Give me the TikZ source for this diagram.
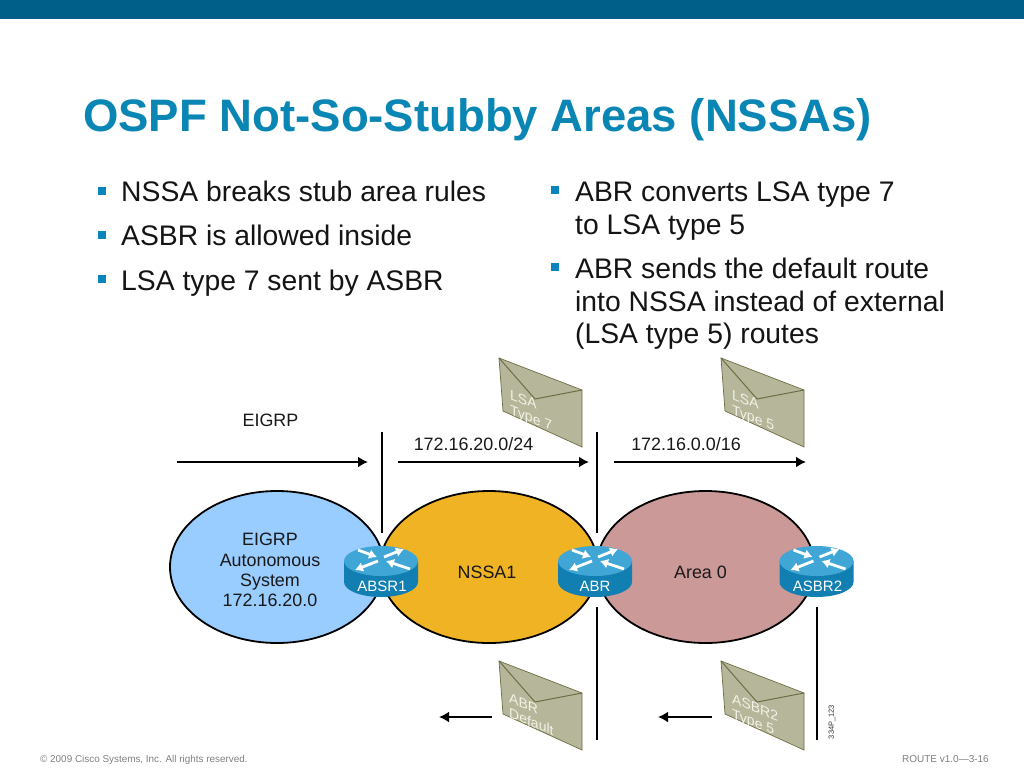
\documentclass[tikz,border=0pt]{standalone}
\usepackage{fontspec}
\setmainfont{Liberation Sans}
\usetikzlibrary{arrows.meta,shapes.geometric}
\definecolor{ciscoblue}{HTML}{0A86B4}
\definecolor{bulletblue}{HTML}{0A84BE}
\definecolor{topbar}{HTML}{005F89}
\definecolor{envfill}{HTML}{B5B69A}
\definecolor{envline}{HTML}{6E6E45}
\definecolor{routerTop}{HTML}{3FA6D6}
\definecolor{routerSide}{HTML}{117FB2}
\definecolor{envtext}{HTML}{F2F2E6}
\definecolor{eigrpblue}{RGB}{153,204,255}
\definecolor{areared}{RGB}{204,153,153}
\definecolor{nssagold}{RGB}{239,179,36}
\newcommand{\fs}[1]{\fontsize{#1}{#1}\selectfont}
\tikzset{
  x=1pt,y=-1pt,
  body/.style={anchor=base west,inner sep=0pt,text=black!92,font=\fs{28.3}},
  bullet/.style={fill=bulletblue,minimum size=8pt,inner sep=0pt},
  dia/.style={text=black!90,font=\fontsize{17.9}{20.3}\selectfont,inner sep=0pt,align=center},
  area/.style={ellipse,draw=black,line width=1.8pt,inner sep=0pt,minimum height=152pt},
  barline/.style={line width=2.7pt,black},
  flow/.style={line width=2.7pt,black,-{Latex[length=10pt,width=11pt]}},
  routerlabel/.style={text=white,font=\fs{15},inner sep=0pt},
  envlabel/.style={text=envtext,font=\fontsize{14}{15}\selectfont,inner sep=0pt,align=left,anchor=north west,yslant=-0.40,transform shape},
  whitearrow/.style={white,line width=2.8pt,-{Latex[length=8pt,width=10pt]}},
}
\newcommand{\router}[4]{%
  \begin{scope}[shift={(#1,572)}]
    \fill[routerSide] (-37,-11) -- (-37,10) arc[start angle=180,end angle=0,x radius=37,y radius=15] -- (37,-11) -- cycle;
    \fill[routerTop] (0,-11) ellipse[x radius=37,y radius=15];
    \draw[whitearrow] (-23,-22) -- (-4,-15);
    \draw[whitearrow] (3,-15) -- (23,-23);
    \draw[whitearrow] (-3,-11) -- (-26,-2);
    \draw[whitearrow] (29,-3) -- (5,-11);
  \end{scope}
  \node[routerlabel] (#3) at ({#1+#2},586) {#4};
}
\newcommand{\envelope}[6]{%
  \begin{scope}[shift={(#1,#2)}]
    \filldraw[envfill,draw=envline,line width=0.7pt] (0,0) -- (83,32) -- (83,89) -- (4,53) -- cycle;
    \draw[envline,line width=1pt] (0,0) -- (36,41) -- (83,32);
    \node[envlabel] (#3) at (#4,#5) {#6};
  \end{scope}
}
\begin{document}
\begin{tikzpicture}
\useasboundingbox (0,0) rectangle (1024,768);
\fill[white] (0,0) rectangle (1024,768);
\fill[topbar] (0,0) rectangle (1024,19);

\node[anchor=base west,inner sep=0pt,text=ciscoblue,font=\bfseries\fs{45.5}] (title) at (83,131) {OSPF Not-So-Stubby Areas (NSSAs)};

\node[bullet] (b1) at (102,191) {};
\node[body] (t1) at (121,201) {NSSA breaks stub area rules};
\node[bullet] (b2) at (102,235) {};
\node[body] (t2) at (121,245) {ASBR is allowed inside};
\node[bullet] (b3) at (102,279) {};
\node[body] (t3) at (121,290) {LSA type 7 sent by ASBR};

\node[bullet] (b4) at (555,190) {};
\node[body] (t4) at (575,201) {ABR converts LSA type 7};
\node[body] (t4b) at (575,234) {to LSA type 5};
\node[bullet] (b5) at (555,267) {};
\node[body] (t5) at (575,278) {ABR sends the default route};
\node[body] (t5b) at (575,311) {into NSSA instead of external};
\node[body] (t5c) at (575,343) {(LSA type 5) routes};

\node[area,fill=eigrpblue,minimum width=214pt] (eigrp) at (277,567) {};
\node[area,fill=nssagold,minimum width=218pt] (nssa) at (489,567) {};
\node[area,fill=areared,minimum width=218pt] (area0) at (705.5,567) {};

\node[dia] (eigrplabel) at (270,570) {EIGRP\\Autonomous\\System\\172.16.20.0};
\node[dia] (nssalabel) at (487,572) {NSSA1};
\node[dia] (area0label) at (700.5,572) {Area 0};

\router{381}{1}{r1}{ABSR1}
\router{595}{0}{r2}{ABR}
\router{816.5}{1}{r3}{ASBR2}

\envelope{499}{358}{e1}{11}{31}{LSA\\Type 7}
\envelope{721}{358}{e2}{11}{31}{LSA\\Type 5}
\envelope{499}{661}{e3}{10}{32}{ABR\\Default}
\envelope{721}{661}{e4}{11}{32}{ASBR2\\Type 5}

\node[dia] (lab1) at (270.5,420) {EIGRP};
\node[dia] (lab2) at (473.5,444) {172.16.20.0/24};
\node[dia] (lab3) at (686,444) {172.16.0.0/16};

\coordinate (a1s) at (177,462); \coordinate (a1e) at (368,462);
\coordinate (a2s) at (398,462); \coordinate (a2e) at (589,462);
\coordinate (a3s) at (614,462); \coordinate (a3e) at (806,462);
\coordinate (a4s) at (492,717); \coordinate (a4e) at (439,717);
\coordinate (a5s) at (712,717); \coordinate (a5e) at (658,717);
\draw[flow] (a1s) -- (a1e);
\draw[flow] (a2s) -- (a2e);
\draw[flow] (a3s) -- (a3e);
\draw[flow] (a4s) -- (a4e);
\draw[flow] (a5s) -- (a5e);

\coordinate (v1t) at (382,432); \coordinate (v1b) at (382,533);
\coordinate (v2t) at (597,432); \coordinate (v2b) at (597,533);
\coordinate (v3t) at (597,607); \coordinate (v3b) at (597,740);
\coordinate (v4t) at (817,607); \coordinate (v4b) at (817,740);
\draw[barline] (v1t) -- (v1b);
\draw[barline] (v2t) -- (v2b);
\draw[barline] (v3t) -- (v3b);
\draw[barline] (v4t) -- (v4b);

\node[rotate=90,font=\fs{7.5},text=black!80,inner sep=0pt] (code) at (832,722) {334P\_123};
\node[anchor=base west,inner sep=0pt,font=\fs{9.9},text=black!50] (copy) at (40,762) {© 2009 Cisco Systems, Inc. All rights reserved.};
\node[anchor=base east,inner sep=0pt,font=\fs{10},text=black!50] (page) at (989,762) {ROUTE v1.0—3-16};
\end{tikzpicture}
\end{document}
